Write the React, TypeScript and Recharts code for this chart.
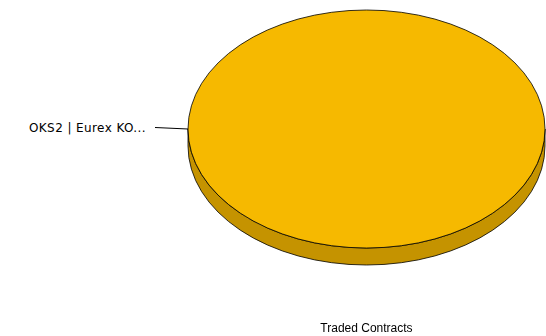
import { PieChart, Pie, Legend } from 'recharts';

const sliceNames = ['OKS2 | Eurex KO...'];
const sliceValues = [1240];
const seriesName = 'Traded Contracts';

const TOP_FILL = '#F6B900';
const SIDE_FILL = '#C59300';
const FLATTEN = 119 / 178.5;
const DEPTH = 17;

const data = sliceNames.map((name, i) => ({ name, value: sliceValues[i] }));

function Slice3D(props: any) {
  const { cx, cy, outerRadius, startAngle, endAngle } = props;
  const rx = outerRadius;
  const ry = outerRadius * FLATTEN;
  const full = Math.abs(endAngle - startAngle) >= 359.99;
  const side = `M ${cx - rx},${cy} A ${rx} ${ry} 0 0 0 ${cx + rx},${cy} L ${cx + rx},${cy + DEPTH} A ${rx} ${ry} 0 0 1 ${cx - rx},${cy + DEPTH} Z`;
  let top: string;
  if (full) {
    top = `M ${cx - rx},${cy} A ${rx} ${ry} 0 1 1 ${cx + rx},${cy} A ${rx} ${ry} 0 1 1 ${cx - rx},${cy} Z`;
  } else {
    const rad = Math.PI / 180;
    const x1 = cx + rx * Math.cos(-startAngle * rad);
    const y1 = cy + ry * Math.sin(-startAngle * rad);
    const x2 = cx + rx * Math.cos(-endAngle * rad);
    const y2 = cy + ry * Math.sin(-endAngle * rad);
    const large = Math.abs(endAngle - startAngle) > 180 ? 1 : 0;
    top = `M ${cx},${cy} L ${x1},${y1} A ${rx} ${ry} 0 ${large} 0 ${x2},${y2} Z`;
  }
  return (
    <g>
      <path d={side} fill={SIDE_FILL} stroke="#000" strokeWidth={0.8} />
      <path d={top} fill={TOP_FILL} stroke="#000" strokeWidth={0.8} />
    </g>
  );
}

function SliceLabel(props: any) {
  const { cx, cy, outerRadius, midAngle, name } = props;
  const rad = Math.PI / 180;
  const rx = outerRadius;
  const ry = outerRadius * FLATTEN;
  const px = cx + rx * Math.cos(-midAngle * rad);
  const py = cy + ry * Math.sin(-midAngle * rad);
  const ex = px - 33;
  const ey = py - 1.5;
  return (
    <g>
      <line x1={px} y1={py} x2={ex} y2={ey} stroke="#000" strokeWidth={1} />
      <text
        x={ex - 9}
        y={ey}
        textAnchor="end"
        dominantBaseline="central"
        fontFamily="DejaVu Sans, Verdana, sans-serif"
        fontSize={12}
        letterSpacing={0.4}
        fill="#000"
      >
        {name}
      </text>
    </g>
  );
}

export default function App() {
  return (
    <div style={{ position: 'fixed', left: 0, top: 0, width: 546, height: 336, background: '#fff' }}>
      <PieChart width={546} height={336} margin={{ top: 0, right: 0, bottom: 0, left: 0 }}>
        <Pie
          data={data}
          dataKey="value"
          nameKey="name"
          name={seriesName}
          cx={366.5}
          cy={129}
          outerRadius={178.5}
          startAngle={0}
          endAngle={360}
          shape={Slice3D}
          label={SliceLabel}
          labelLine={false}
          isAnimationActive={false}
        />
        <Legend
          wrapperStyle={{ position: 'absolute', left: 186, top: 321, width: 361 }}
          content={() => (
            <div
              style={{
                textAlign: 'center',
                fontFamily: 'Liberation Sans, Arial, sans-serif',
                fontSize: 12,
                color: '#000',
              }}
            >
              {seriesName}
            </div>
          )}
        />
      </PieChart>
    </div>
  );
}
